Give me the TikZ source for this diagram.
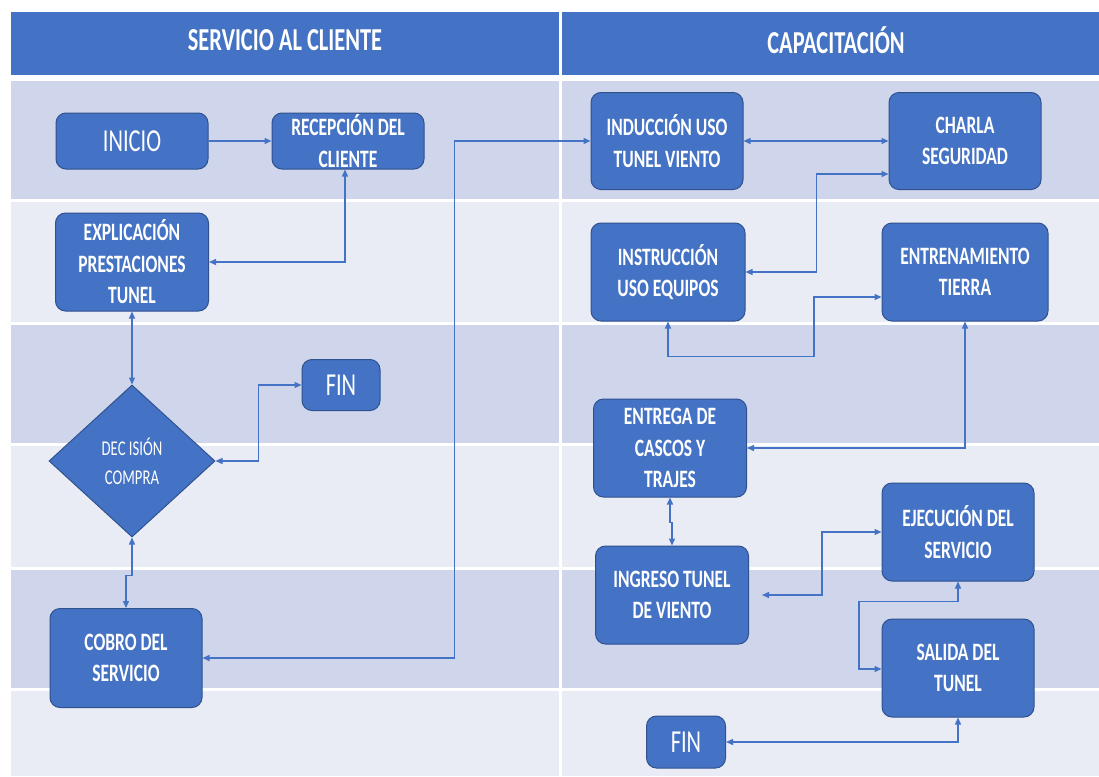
\documentclass[tikz,border=0pt]{standalone}
\usepackage{fontspec}
\setmainfont{Carlito}
\newfontfamily\lanefont{Carlito}[FakeStretch=0.7]
\usepackage{xcolor}
\usetikzlibrary{shapes.geometric,arrows.meta,positioning,calc}

\definecolor{boxblue}{HTML}{4472C4}
\definecolor{boxedge}{HTML}{2F528F}
\definecolor{banddark}{HTML}{CFD5EA}
\definecolor{bandlight}{HTML}{E9EBF5}

\tikzset{
    proc/.style={draw=boxedge, fill=boxblue, rounded corners=10pt, line width=1pt,
        text=white, align=center, inner sep=0pt,
        font=\lanefont\bfseries\fontsize{25}{31.5}\selectfont},
    term/.style={proc, font=\lanefont\fontsize{32}{36}\selectfont},
    decis/.style={diamond, draw=boxedge, fill=boxblue, line width=1pt, text=white,
        align=center, inner sep=0pt, minimum width=166pt, minimum height=152pt,
        font=\lanefont\fontsize{21}{29}\selectfont},
    lanehead/.style={text=white, font=\lanefont\bfseries\fontsize{32}{36}\selectfont},
    link/.style={draw=boxblue, line width=1.3pt,
        {Triangle[length=7pt,width=6pt]}-{Triangle[length=7pt,width=6pt]}},
}

\begin{document}
\begin{tikzpicture}[x=1pt,y=-1pt]
    \useasboundingbox (0,0) rectangle (1099,776);
    \fill[white] (0,0) rectangle (1099,776);

    % Swimlanes
    \fill[boxblue] (11,12) rectangle (1099,75);
    \foreach \top/\bot/\col in {81/199/banddark, 202/322/bandlight, 325/443/banddark,
                                446/567/bandlight, 570/688/banddark, 691/776/bandlight}
        \fill[\col] (11,\top) rectangle (1099,\bot);
    \draw[white, line width=3pt] (560,12) -- (560,776);

    \node[lanehead] (hcli) at (285,40) {SERVICIO AL CLIENTE};
    \node[lanehead] (hcap) at (836,40) {CAPACITACIÓN};

    % Servicio al cliente
    \node[term, minimum width=152pt, minimum height=56pt] (inicio) at (132,141) {INICIO};
    \node[proc, minimum width=152pt, minimum height=56pt] (recep) at (348,141) {RECEPCIÓN DEL\\CLIENTE};
    \node[proc, minimum width=153pt, minimum height=98pt] (explic) at (132,262) {EXPLICACIÓN\\PRESTACIONES\\TUNEL};
    \node[decis] (decision) at (132,461) {DEC ISIÓN\\COMPRA};
    \node[term, minimum width=78pt, minimum height=51pt] (fin1) at (341,385) {FIN};
    \node[proc, minimum width=152pt, minimum height=99pt] (cobro) at (126,658) {COBRO DEL\\SERVICIO};

    % Capacitacion
    \node[proc, minimum width=152pt, minimum height=97pt] (induc) at (667,141) {INDUCCIÓN USO\\TUNEL VIENTO};
    \node[proc, minimum width=152pt, minimum height=97pt] (charla) at (965,141) {CHARLA\\SEGURIDAD};
    \node[proc, minimum width=154pt, minimum height=98pt] (instr) at (668,272) {INSTRUCCIÓN\\USO EQUIPOS};
    \node[proc, minimum width=166pt, minimum height=98pt] (entren) at (965,272) {ENTRENAMIENTO\\TIERRA};
    \node[proc, minimum width=153pt, minimum height=98pt] (entrega) at (670,448) {ENTREGA DE\\CASCOS Y\\TRAJES};
    \node[proc, minimum width=153pt, minimum height=98pt] (ingreso) at (672,595) {INGRESO TUNEL\\DE VIENTO};
    \node[proc, minimum width=152pt, minimum height=98pt] (ejec) at (958,532) {EJECUCIÓN DEL\\SERVICIO};
    \node[proc, minimum width=152pt, minimum height=98pt] (salida) at (958,668) {SALIDA DEL\\TUNEL};
    \node[term, minimum width=79pt, minimum height=52pt] (fin2) at (686,742) {FIN};

    % Connectors
    \draw[draw=boxblue, line width=1.3pt, -{Triangle[length=7pt,width=6pt]}] (inicio) -- (recep);
    \draw[link] ([xshift=-3pt]recep.south) |- (explic.east);
    \draw[link] (explic.south) -- (decision.north);
    \draw[link] (decision.east) -- ++(43,0) |- (fin1.west);
    \draw[link] (decision.south) -- ++(0,38) -| (cobro.north);
    \draw[link] (cobro.east) -- ++(252,0) |- (induc.west);
    \draw[link] (induc.east) -- (charla.west);
    \draw[link] (instr.east) -- ++(71,0) |- ([yshift=-33pt]charla.west);
    \draw[link] (instr.south) -- ++(0,35) -- ++(146,0) |- ([yshift=-25pt]entren.west);
    \draw[link] (entren.south) |- (entrega.east);
    \draw[link] (entrega.south) -- ++(0,25) -| (ingreso.north);
    \draw[link] ([xshift=13pt]ingreso.east) -- ++(60,0) |- (ejec.west);
    \draw[link] (ejec.south) -- ++(0,20) -- ++(-99,0) |- ([yshift=-1pt]salida.west);
    \draw[link] (salida.south) |- (fin2.east);
\end{tikzpicture}
\end{document}
